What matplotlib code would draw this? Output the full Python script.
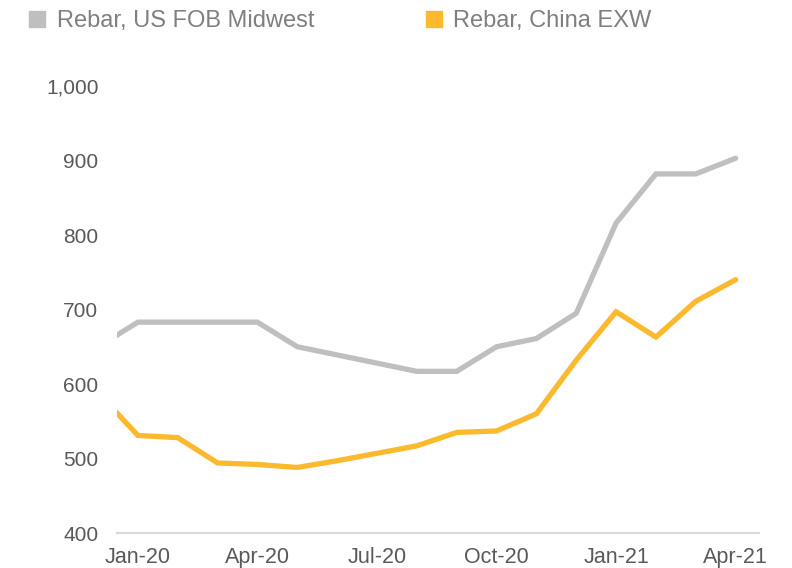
import matplotlib
matplotlib.use("Agg")
from matplotlib import pyplot as plt
from matplotlib.patches import Patch

plt.rcParams['font.family'] = ['Liberation Sans', 'DejaVu Sans']

# Monthly data, Dec-19 .. Apr-21 (index 0 = Jan-20)
months = list(range(-1, 16))
us_fob_midwest = [650, 683, 683, 683, 683, 650, 639, 628, 617, 617, 650, 661,
                  695, 816, 882, 882, 903]
china_exw = [588, 531, 528, 494, 492, 488, 497, 507, 517, 535, 537, 560,
             632, 697, 663, 711, 740]
tick_pos = [0, 3, 6, 9, 12, 15]
tick_labels = ['Jan-20', 'Apr-20', 'Jul-20', 'Oct-20', 'Jan-21', 'Apr-21']

gray = '#BFBFBF'
yellow = '#FBB92D'
text_col = '#7F7F7F'

fig = plt.figure(figsize=(7.92, 5.68), dpi=100)
ax = fig.add_axes([0.148, 0.0616, 0.81, 0.787])

ax.plot(months, us_fob_midwest, color=gray, lw=3.8, solid_capstyle='round',
        solid_joinstyle='miter')
ax.plot(months, china_exw, color=yellow, lw=3.8, solid_capstyle='round',
        solid_joinstyle='miter')

ax.set_xlim(-0.52, 15.58)
ax.set_ylim(400, 1000)
ax.set_xticks(tick_pos)
ax.set_xticklabels(tick_labels)
ax.set_yticks([400, 500, 600, 700, 800, 900, 1000])
ax.yaxis.set_major_formatter(matplotlib.ticker.FuncFormatter(lambda v, p: f'{int(v):,}'))

for s in ['top', 'right', 'left']:
    ax.spines[s].set_visible(False)
ax.spines['bottom'].set_color('#D9D9D9')
ax.spines['bottom'].set_linewidth(1.5)
ax.tick_params(axis='both', length=0, labelsize=15, colors='#595959')
ax.tick_params(axis='x', labelsize=15.5, pad=10)
ax.tick_params(axis='y', pad=13.5)

handles = [Patch(color=gray, label='Rebar, US FOB Midwest'),
           Patch(color=yellow, label='Rebar, China EXW')]
fig.legend(handles=handles, loc='upper left', bbox_to_anchor=(0.01, 1.02),
           ncol=2, frameon=False, fontsize=17, labelcolor=text_col,
           handlelength=0.68, handleheight=0.68, handletextpad=0.5,
           columnspacing=4.7)

fig.savefig('out.png', dpi=100)
